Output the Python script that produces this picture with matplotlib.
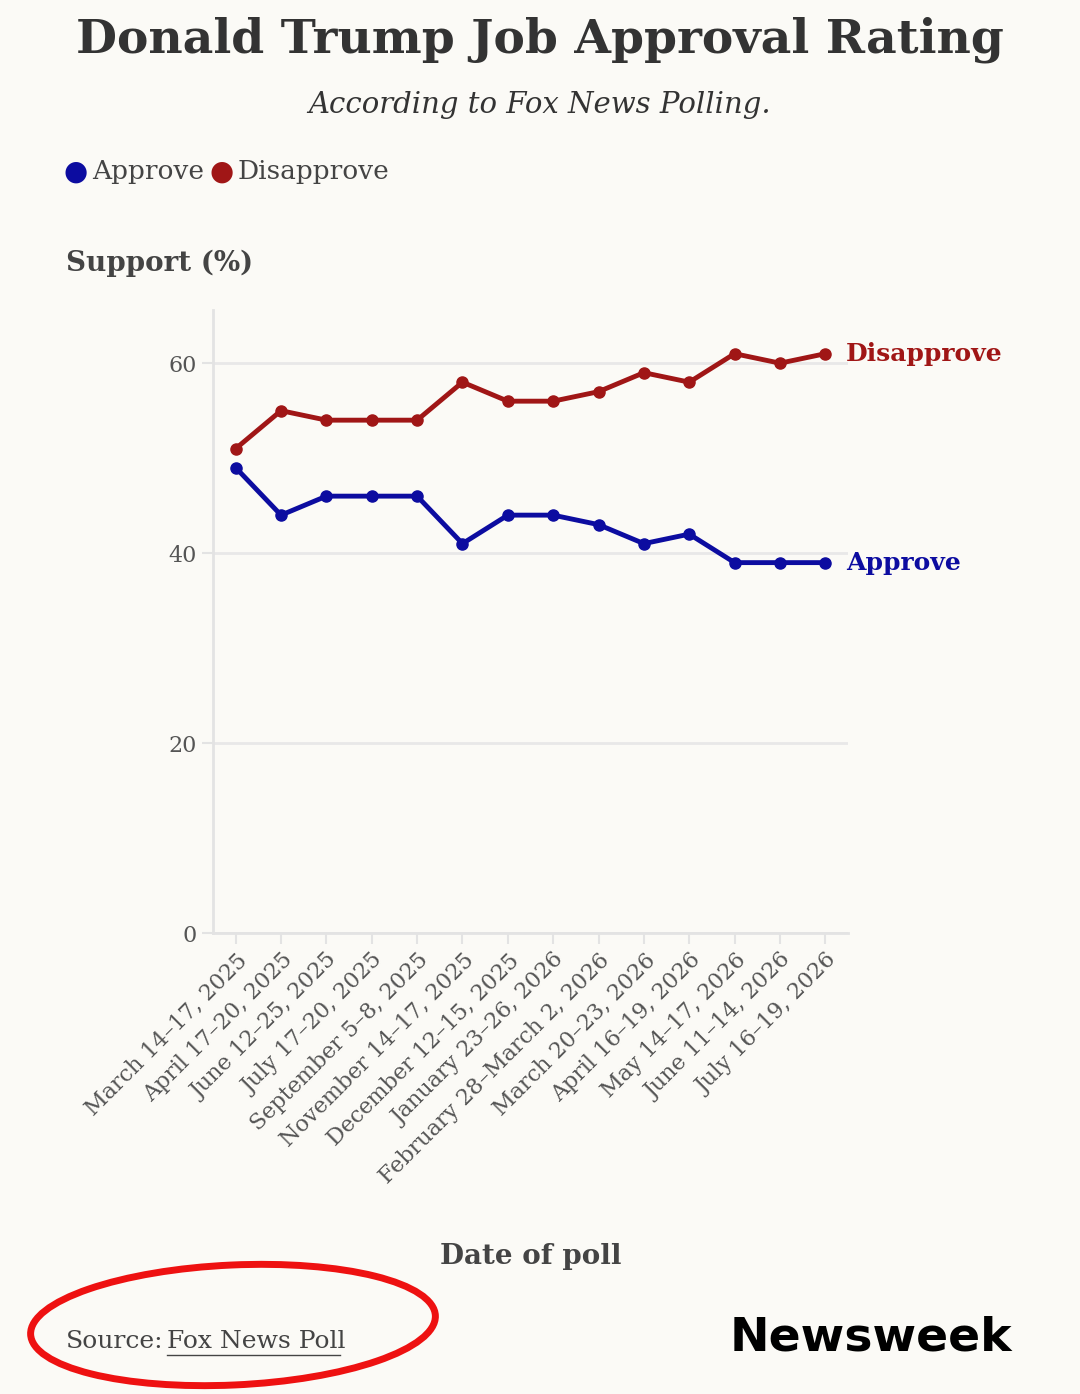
import matplotlib.pyplot as plt
from matplotlib.patches import Ellipse


def show(outfile="out.png"):
    dates = [
        "March 14–17, 2025", "April 17–20, 2025", "June 12–25, 2025",
        "July 17–20, 2025", "September 5–8, 2025", "November 14–17, 2025",
        "December 12–15, 2025", "January 23–26, 2026",
        "February 28–March 2, 2026", "March 20–23, 2026",
        "April 16–19, 2026", "May 14–17, 2026", "June 11–14, 2026",
        "July 16–19, 2026",
    ]
    approve = [49, 44, 46, 46, 46, 41, 44, 44, 43, 41, 42, 39, 39, 39]
    disapprove = [51, 55, 54, 54, 54, 58, 56, 56, 57, 59, 58, 61, 60, 61]
    blue, red = "#0c0ca0", "#a01616"
    bg = "#fbfaf6"

    plt.rcParams["font.family"] = "DejaVu Serif"
    fig = plt.figure(figsize=(10.8, 13.94), dpi=100, facecolor=bg)
    ax = fig.add_axes([213 / 1080, 1 - 933 / 1394, 635 / 1080, 623 / 1394])
    ax.set_facecolor(bg)

    x = range(len(dates))
    plt.plot(x, disapprove, color=red, lw=3.5, marker="o", ms=8, zorder=3)
    plt.plot(x, approve, color=blue, lw=3.5, marker="o", ms=8, zorder=3)
    plt.text(len(dates) - 1 + 0.45, disapprove[-1], "Disapprove", color=red,
             fontsize=18, fontweight="bold", va="center", clip_on=False)
    plt.text(len(dates) - 1 + 0.45, approve[-1], "Approve", color=blue,
             fontsize=18, fontweight="bold", va="center", clip_on=False)

    plt.xlim(-0.5, len(dates) - 0.5)
    plt.ylim(0, 65.6)
    plt.yticks([0, 20, 40, 60], fontsize=16, color="#555555")
    plt.xticks(list(x), dates, rotation=45, ha="right", rotation_mode="anchor",
               fontsize=16, color="#555555")
    plt.grid(axis="y", color="#e8e8e8", lw=2)
    ax.set_axisbelow(True)
    for side in ["top", "right"]:
        ax.spines[side].set_visible(False)
    for side in ["left", "bottom"]:
        ax.spines[side].set_color("#e3e3e3")
        ax.spines[side].set_linewidth(2)
    ax.tick_params(colors="#555555", length=8, width=1.5, color="#e3e3e3")
    plt.xlabel("Date of poll", fontsize=20, fontweight="bold", color="#444444",
               labelpad=40)

    fig.text(0.5, 1 - 40 / 1394, "Donald Trump Job Approval Rating", ha="center",
             va="center", fontsize=34, fontweight="bold", color="#333333")
    fig.text(0.5, 1 - 105 / 1394, "According to Fox News Polling.", ha="center",
             va="center", fontsize=21, style="italic", color="#333333")
    fig.text(76 / 1080, 1 - 172 / 1394, "●", color=blue, fontsize=20, va="center",
             ha="center")
    fig.text(92 / 1080, 1 - 172 / 1394, "Approve", color="#444444", fontsize=19,
             va="center")
    fig.text(222 / 1080, 1 - 172 / 1394, "●", color=red, fontsize=20, va="center",
             ha="center")
    fig.text(238 / 1080, 1 - 172 / 1394, "Disapprove", color="#444444", fontsize=19,
             va="center")
    fig.text(66 / 1080, 1 - 263 / 1394, "Support (%)", fontsize=20,
             fontweight="bold", color="#444444", va="center")
    fig.text(66 / 1080, 1 - 1341 / 1394, "Source:", fontsize=18, color="#444444",
             va="center")
    fig.text(167 / 1080, 1 - 1341 / 1394, "Fox News Poll", fontsize=18,
             color="#444444", va="center")
    fig.add_artist(plt.Line2D([167 / 1080, 340 / 1080],
                              [1 - 1355 / 1394] * 2, color="#444444", lw=1))
    fig.text(1012 / 1080, 1 - 1338 / 1394, "Newsweek", fontsize=34,
             fontweight="bold", family="DejaVu Sans", color="black",
             ha="right", va="center")
    # hand-drawn red ring around the source
    fig.add_artist(Ellipse((233 / 1080, 1 - 1325 / 1394), 405 / 1080, 120 / 1394,
                           angle=2, fill=False, color="#ee1111", lw=5))

    plt.savefig(outfile, facecolor=bg)


show()
